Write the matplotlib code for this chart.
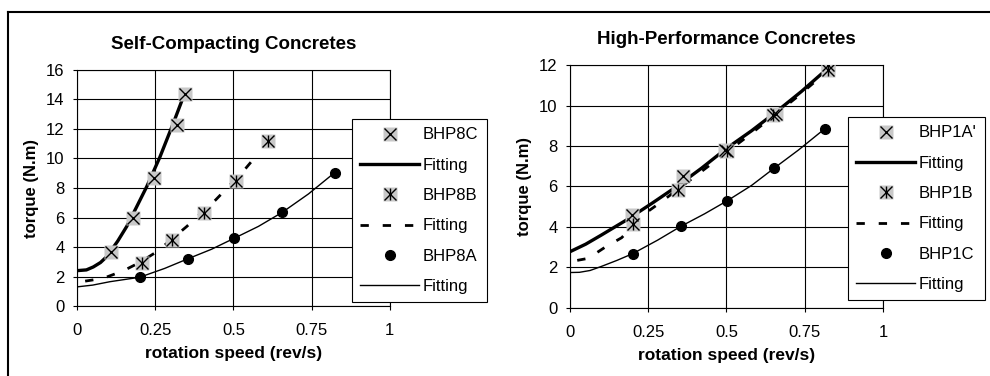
import matplotlib.pyplot as plt
from matplotlib.lines import Line2D

plt.rcParams["font.family"] = ["Liberation Sans", "DejaVu Sans"]

# Self-compacting concretes: measured points
scc_8c_x = [0.11, 0.18, 0.247, 0.318, 0.345]
scc_8c_y = [3.65, 6.0, 8.7, 12.3, 14.4]
scc_8b_x = [0.209, 0.303, 0.406, 0.508, 0.612]
scc_8b_y = [2.9, 4.5, 6.3, 8.5, 11.2]
scc_8a_x = [0.2, 0.354, 0.503, 0.656, 0.824]
scc_8a_y = [1.95, 3.2, 4.6, 6.35, 9.0]

# Self-compacting concretes: fitting curves
fit_8c_x = [0.0, 0.03, 0.052, 0.075, 0.095, 0.13, 0.159, 0.19, 0.223, 0.265, 0.308, 0.342]
fit_8c_y = [2.4, 2.45, 2.65, 2.95, 3.35, 4.4, 5.4, 6.7, 8.1, 10.1, 12.4, 14.3]
fit_8b_x = [0.026, 0.084, 0.149, 0.2, 0.255, 0.35, 0.443, 0.53, 0.569]
fit_8b_y = [1.69, 1.88, 2.4, 2.95, 3.68, 5.38, 7.19, 9.1, 10.08]
fit_8a_x = [0.0, 0.05, 0.105, 0.2, 0.28, 0.354, 0.43, 0.503, 0.58, 0.656, 0.74, 0.824]
fit_8a_y = [1.3, 1.42, 1.65, 1.95, 2.55, 3.2, 3.85, 4.6, 5.4, 6.35, 7.6, 9.05]

# High-performance concretes: measured points
hpc_1a_x = [0.197, 0.36, 0.496, 0.657, 0.824]
hpc_1a_y = [4.6, 6.5, 7.8, 9.6, 12.0]
hpc_1b_x = [0.202, 0.346, 0.502, 0.649, 0.824]
hpc_1b_y = [4.15, 5.85, 7.75, 9.55, 11.75]
hpc_1c_x = [0.2, 0.354, 0.503, 0.652, 0.814]
hpc_1c_y = [2.68, 4.03, 5.3, 6.9, 8.85]

# High-performance concretes: fitting curves
fit_1a_x = [0.0, 0.05, 0.1, 0.181, 0.26, 0.341, 0.42, 0.5, 0.58, 0.66, 0.74, 0.825]
fit_1a_y = [2.78, 3.15, 3.6, 4.35, 5.15, 6.0, 6.9, 7.88, 8.75, 9.7, 10.7, 11.85]
fit_1b_x = [0.023, 0.058, 0.112, 0.165, 0.24, 0.288, 0.426, 0.573, 0.724, 0.8]
fit_1b_y = [2.35, 2.45, 3.0, 3.47, 4.67, 5.2, 6.81, 8.54, 10.4, 11.4]
fit_1c_x = [0.0, 0.03, 0.064, 0.1, 0.15, 0.2, 0.28, 0.354, 0.43, 0.503, 0.58, 0.652, 0.73, 0.814]
fit_1c_y = [1.75, 1.76, 1.85, 2.05, 2.35, 2.68, 3.35, 4.03, 4.65, 5.3, 6.05, 6.9, 7.8, 8.85]

x_ticks = [0, 0.25, 0.5, 0.75, 1]
x_tick_labels = ["0", "0.25", "0.5", "0.75", "1"]

shadow = "#c8c8c8"


def draw_panel(ax, title, ymax, ystep, series, fits, names, legend_corner):
    # series: [(x, y, kind)], kind in "x", "star", "dot"
    handles = []
    for (x, y, kind), (fx, fy, style), name in zip(series, fits, names):
        if kind == "dot":
            ax.plot(x, y, "o", color="black", ms=7, zorder=5)
            h_pts = Line2D([], [], ls="", marker="o", color="black", ms=7)
        else:
            ax.plot(x, y, "s", color=shadow, ms=10, mec="none", zorder=4)
            ax.plot(x, y, "x", color="black", ms=8, mew=1.0, zorder=5)
            h_bg = Line2D([], [], ls="", marker="s", color=shadow, ms=10, mec="none")
            h_x = Line2D([], [], ls="", marker="x", color="black", ms=8, mew=1.0)
            if kind == "star":
                ax.plot(x, y, "|", color="black", ms=8, mew=1.0, zorder=5)
                h_v = Line2D([], [], ls="", marker="|", color="black", ms=8, mew=1.0)
                h_pts = (h_bg, h_x, h_v)
            else:
                h_pts = (h_bg, h_x)
        if style == "thick":
            kw = dict(color="black", lw=2.4)
        elif style == "dash":
            kw = dict(color="black", lw=2.0, ls=(0, (3, 5)))
        else:
            kw = dict(color="black", lw=1.0)
        ax.plot(fx, fy, zorder=3, **kw)
        handles.append((h_pts, name))
        handles.append((Line2D([], [], **kw), "Fitting"))

    ax.set_xlim(0, 1)
    ax.set_ylim(0, ymax)
    ax.set_xticks(x_ticks)
    ax.set_xticklabels(x_tick_labels)
    ax.set_yticks(range(0, ymax + 1, ystep))
    ax.grid(True, color="black", lw=0.8)
    ax.set_axisbelow(True)
    for s in ax.spines.values():
        s.set_linewidth(0.8)
    ax.tick_params(direction="out", length=3, labelsize=12, pad=6)
    ax.tick_params(axis="x", pad=9)
    ax.set_title(title, fontsize=13.5, fontweight="bold", pad=15)
    ax.set_xlabel("rotation speed (rev/s)", fontsize=12.5, fontweight="bold", labelpad=6)
    ax.set_ylabel("torque (N.m)", fontsize=12, fontweight="bold", labelpad=5)

    leg = ax.figure.legend(
        [h for h, _ in handles], [n for _, n in handles],
        loc="upper left", bbox_to_anchor=legend_corner,
        fontsize=12, handlelength=3.5, handletextpad=0.25,
        labelspacing=0.92, borderpad=0.5, borderaxespad=0,
        frameon=True, fancybox=False, edgecolor="black", framealpha=1,
    )
    leg.get_frame().set_linewidth(0.8)
    leg.set_zorder(10)


fig = plt.figure(figsize=(9.9, 3.76), dpi=100)
ax1 = fig.add_axes([0.0778, 0.186, 0.316, 0.628])
ax2 = fig.add_axes([0.5758, 0.181, 0.316, 0.646])

draw_panel(
    ax1, "Self-Compacting Concretes", 16, 2,
    [(scc_8c_x, scc_8c_y, "x"), (scc_8b_x, scc_8b_y, "star"), (scc_8a_x, scc_8a_y, "dot")],
    [(fit_8c_x, fit_8c_y, "thick"), (fit_8b_x, fit_8b_y, "dash"), (fit_8a_x, fit_8a_y, "thin")],
    ["BHP8C", "BHP8B", "BHP8A"],
    (352 / 990, 1 - 119 / 376),
)
draw_panel(
    ax2, "High-Performance Concretes", 12, 2,
    [(hpc_1a_x, hpc_1a_y, "x"), (hpc_1b_x, hpc_1b_y, "star"), (hpc_1c_x, hpc_1c_y, "dot")],
    [(fit_1a_x, fit_1a_y, "thick"), (fit_1b_x, fit_1b_y, "dash"), (fit_1c_x, fit_1c_y, "thin")],
    ["BHP1A'", "BHP1B", "BHP1C"],
    (848 / 990, 1 - 117 / 376),
)

# outer frame (top and left edges only)
fig.add_artist(Line2D([8 / 990, 1.0], [1 - 12 / 376, 1 - 12 / 376], color="black", lw=1.5,
                      transform=fig.transFigure))
fig.add_artist(Line2D([8 / 990, 8 / 990], [0, 1 - 12 / 376], color="black", lw=1.5,
                      transform=fig.transFigure))

fig.savefig("out.png", dpi=100)
